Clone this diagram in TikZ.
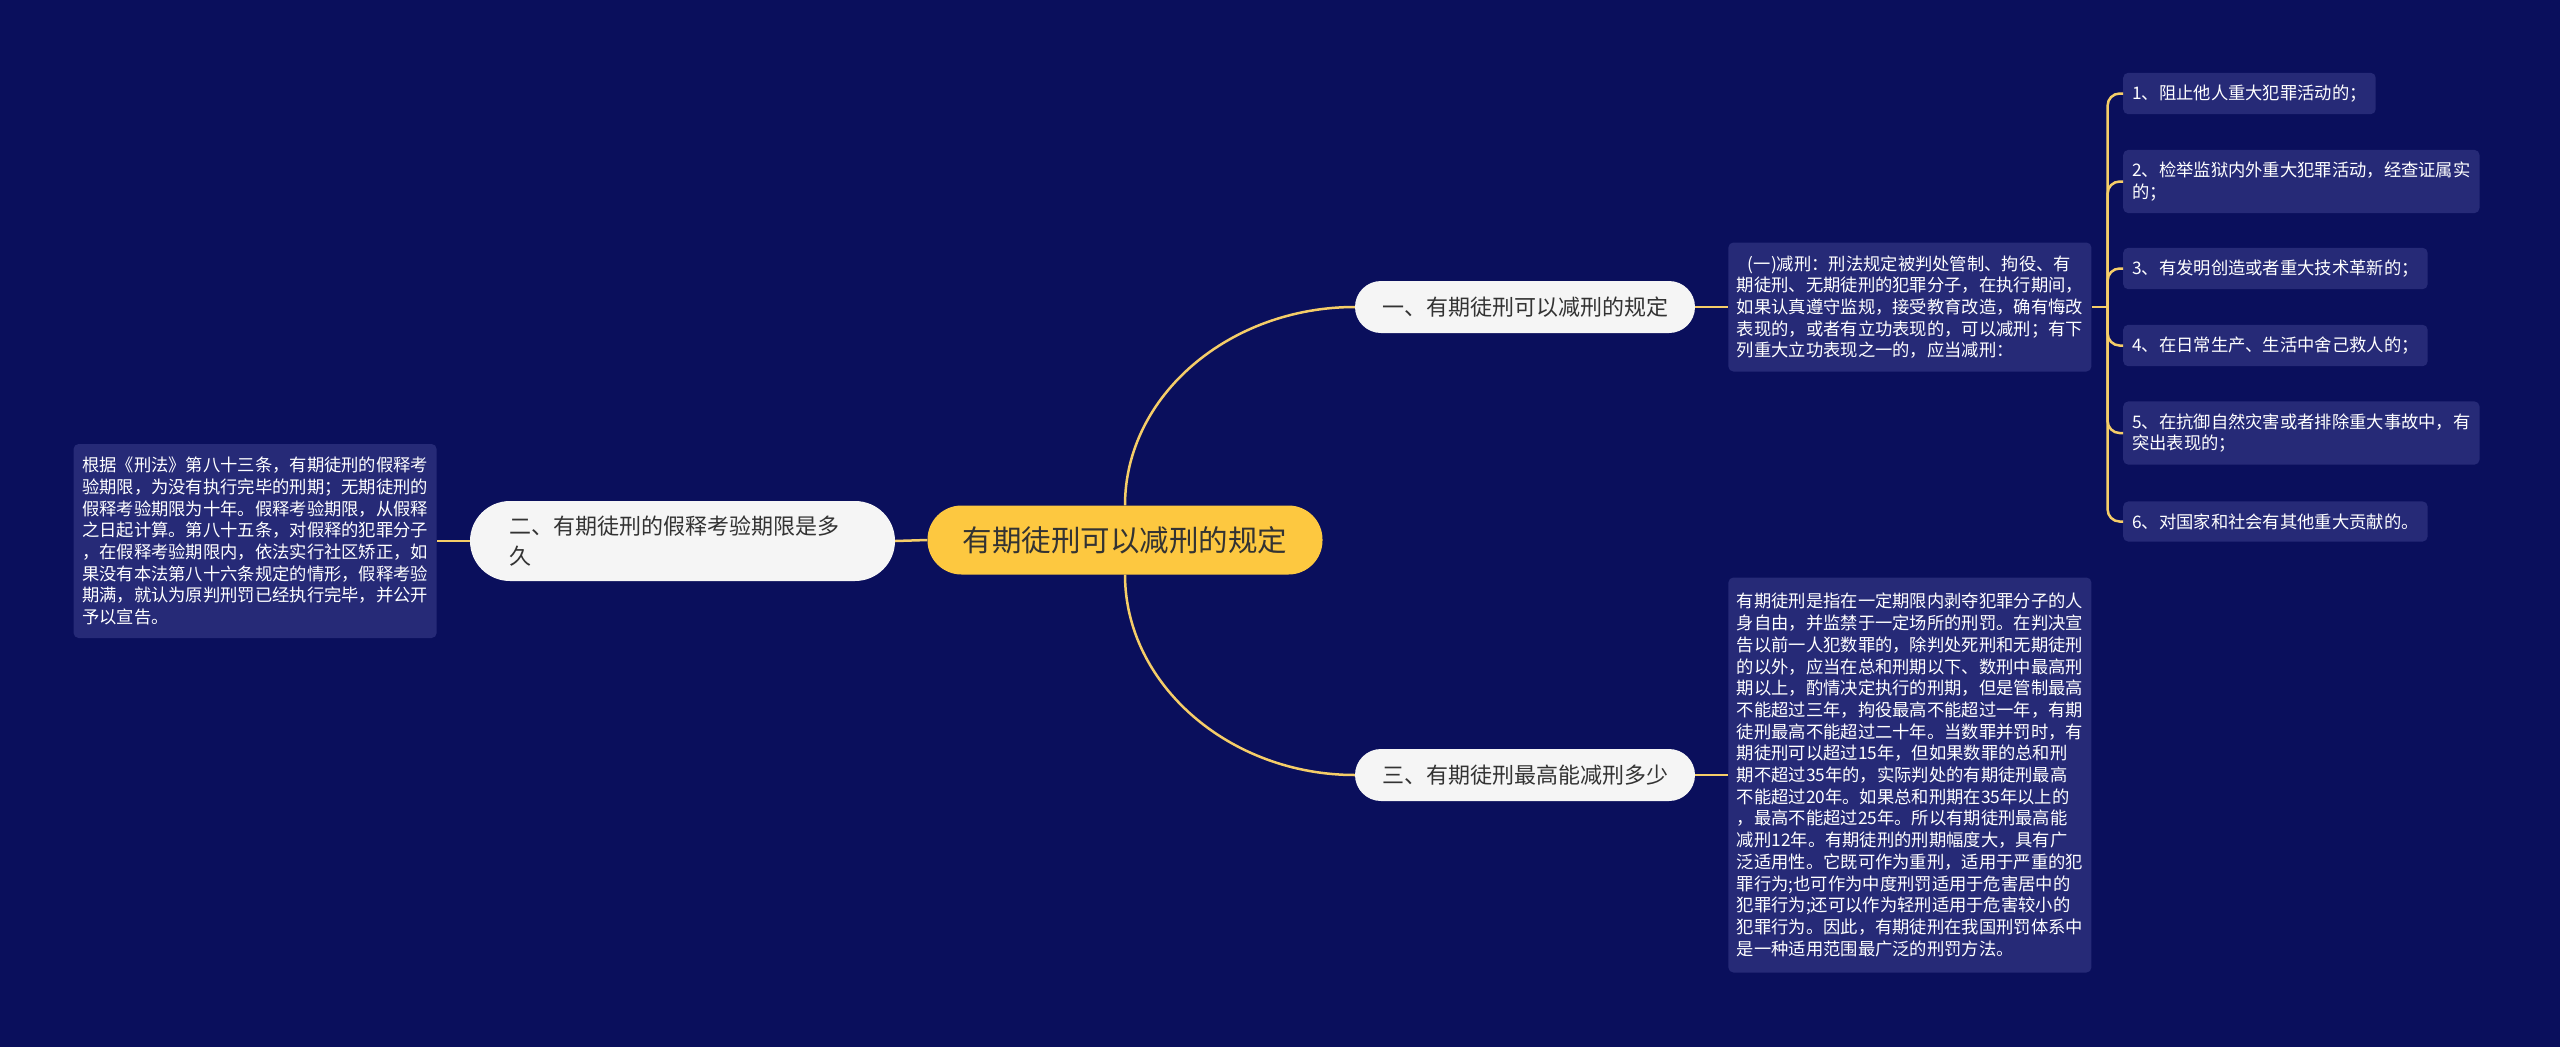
\documentclass[tikz,border=0pt]{standalone}
\usepackage{fontspec}
\setmainfont{Noto Sans CJK SC}
\usetikzlibrary{positioning}
\definecolor{navybg}{HTML}{0A0F5C}
\definecolor{navybox}{HTML}{262A77}
\definecolor{rooty}{HTML}{FDC840}
\definecolor{pillw}{HTML}{F5F5F5}
\definecolor{linky}{HTML}{F5CD68}
\definecolor{darktext}{HTML}{333333}
\tikzset{root/.style={fill=rooty,rounded corners=34pt,minimum width=395pt,minimum height=69pt,text=darktext,font={\fontsize{29.5}{34}\selectfont}},topic/.style={fill=pillw,rounded corners=26pt,minimum width=340pt,minimum height=52pt,text=darktext,font={\fontsize{22}{30}\selectfont}},textbox/.style={fill=navybox,rounded corners=5pt,align=left,text=white,inner xsep=8.5pt,inner ysep=12pt,text width=346pt,font={\fontsize{17.3}{21.7}\selectfont}},item/.style={textbox,anchor=west,text width=,minimum height=39pt,inner xsep=9pt},link/.style={draw=linky,line width=2.5pt}}

\begin{document}
\begin{tikzpicture}[x=1pt,y=1pt,node distance=33pt]
\fill[navybg] (0,0) rectangle (2560,-1047);
\useasboundingbox (0,0) rectangle (2560,-1047);
\node[root] (root) at (1125,-540) {有期徒刑可以减刑的规定};
\node[topic] (yi) at (1525,-307) {一、有期徒刑可以减刑的规定};
\node[topic] (san) at (1525,-775) {三、有期徒刑最高能减刑多少};
\node[topic,rounded corners=40pt,minimum height=80pt,align=left,text width=347pt,inner xsep=39pt] (er) at (682.5,-541) {二、有期徒刑的假释考验期限是多\\久};
\node[textbox,left=of er,minimum height=194pt] (erbox) {根据《刑法》第八十三条，有期徒刑的假释考\\验期限，为没有执行完毕的刑期；无期徒刑的\\假释考验期限为十年。假释考验期限，从假释\\之日起计算。第八十五条，对假释的犯罪分子\\，在假释考验期限内，依法实行社区矫正，如\\果没有本法第八十六条规定的情形，假释考验\\期满，就认为原判刑罚已经执行完毕，并公开\\予以宣告。};
\node[textbox,right=of yi,minimum height=129pt] (jian) {\hspace*{11pt}(一)减刑：刑法规定被判处管制、拘役、有\\期徒刑、无期徒刑的犯罪分子，在执行期间，\\如果认真遵守监规，接受教育改造，确有悔改\\表现的，或者有立功表现的，可以减刑；有下\\列重大立功表现之一的，应当减刑：};
\node[textbox,right=of san,minimum height=395pt] (sanbox) {有期徒刑是指在一定期限内剥夺犯罪分子的人\\身自由，并监禁于一定场所的刑罚。在判决宣\\告以前一人犯数罪的，除判处死刑和无期徒刑\\的以外，应当在总和刑期以下、数刑中最高刑\\期以上，酌情决定执行的刑期，但是管制最高\\不能超过三年，拘役最高不能超过一年，有期\\徒刑最高不能超过二十年。当数罪并罚时，有\\期徒刑可以超过15年，但如果数罪的总和刑\\期不超过35年的，实际判处的有期徒刑最高\\不能超过20年。如果总和刑期在35年以上的\\，最高不能超过25年。所以有期徒刑最高能\\减刑12年。有期徒刑的刑期幅度大，具有广\\泛适用性。它既可作为重刑，适用于严重的犯\\罪行为;也可作为中度刑罚适用于危害居中的\\犯罪行为;还可以作为轻刑适用于危害较小的\\犯罪行为。因此，有期徒刑在我国刑罚体系中\\是一种适用范围最广泛的刑罚方法。};
\coordinate[right=16pt of jian] (fork);
\node[item] (t1) at (2123,-93.5) {1、阻止他人重大犯罪活动的；};
\node[item] (t2) at (2123,-181.5) {2、检举监狱内外重大犯罪活动，经查证属实\\的；};
\node[item] (t3) at (2123,-268.5) {3、有发明创造或者重大技术革新的；};
\node[item] (t4) at (2123,-345.5) {4、在日常生产、生活中舍己救人的；};
\node[item] (t5) at (2123,-433) {5、在抗御自然灾害或者排除重大事故中，有\\突出表现的；};
\node[item] (t6) at (2123,-521.5) {6、对国家和社会有其他重大贡献的。};
\draw[link] (root.west) -- (er.east);
\draw[link] (er.west) -- (erbox.east);
\draw[link] (root.north) .. controls +(0,110) and +(-125,0) .. (yi.west);
\draw[link] (root.south) .. controls +(0,-110) and +(-125,0) .. (san.west);
\draw[link] (yi.east) -- (jian.west);
\draw[link] (san.east) -- (sanbox.west);
\draw[link] (jian.east) -- (fork);
\foreach \i in {1,...,6}
  \draw[link,rounded corners=12pt] (fork) |- (t\i.west);
\end{tikzpicture}
\end{document}
